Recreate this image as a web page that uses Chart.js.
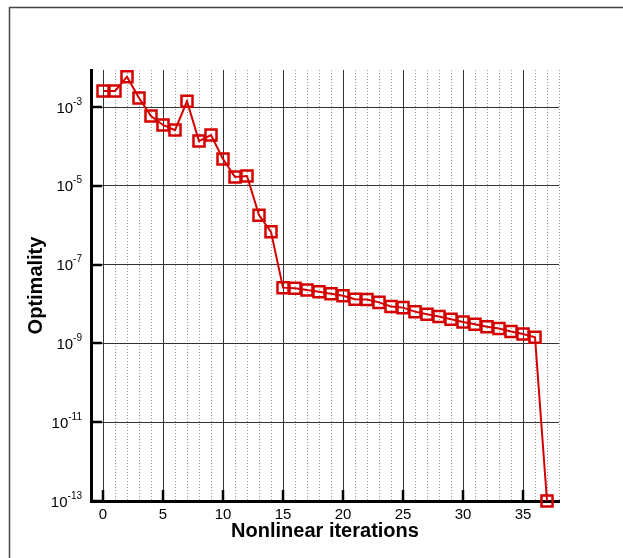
<!DOCTYPE html>
<html>
<head>
<meta charset="utf-8">
<script src="https://cdn.jsdelivr.net/npm/chart.js@4/dist/chart.umd.min.js"></script>
<style>
  html, body { margin: 0; padding: 0; background: #fff; }
  canvas { display: block; }
</style>
</head>
<body>
<canvas id="chart" width="623" height="558"></canvas>
<script>
// data
const iterations = [0, 1, 2, 3, 4, 5, 6, 7, 8, 9, 10, 11, 12, 13, 14, 15, 16, 17, 18,
  19, 20, 21, 22, 23, 24, 25, 26, 27, 28, 29, 30, 31, 32, 33, 34, 35, 36, 37];
const optimality = [2.55e-3, 2.55e-3, 5.9e-3, 1.7e-3, 5.9e-4, 3.5e-4, 2.6e-4, 1.4e-3,
  1.37e-4, 1.95e-4, 4.8e-5, 1.68e-5, 1.78e-5, 1.8e-6, 6.8e-7, 2.6e-8, 2.5e-8, 2.26e-8,
  2.05e-8, 1.82e-8, 1.62e-8, 1.32e-8, 1.3e-8, 1.1e-8, 8.7e-9, 8.1e-9, 6.4e-9, 5.5e-9,
  4.8e-9, 4.1e-9, 3.5e-9, 3.05e-9, 2.65e-9, 2.4e-9, 2.0e-9, 1.73e-9, 1.43e-9, 1e-13];
const xTickLabels = [0, 5, 10, 15, 20, 25, 30, 35];
const yTickExponents = [-3, -5, -7, -9, -11, -13];

const FONT = '"Liberation Sans", Arial, Helvetica, sans-serif';
const RED = '#d40000';

const isMajorX = v => v % 5 === 0 && v >= 0 && v <= 35;

const decorations = {
  id: 'decorations',
  beforeDraw(chart) {
    const ctx = chart.ctx;
    ctx.save();
    ctx.fillStyle = '#fff';
    ctx.fillRect(0, 0, chart.width, chart.height);
    // outer frame (top and left only)
    ctx.strokeStyle = '#444';
    ctx.lineWidth = 1.5;
    ctx.beginPath();
    ctx.moveTo(9.5, chart.height);
    ctx.lineTo(9.5, 7.5);
    ctx.lineTo(chart.width, 7.5);
    ctx.stroke();
    ctx.restore();
  },
  afterDraw(chart) {
    const ctx = chart.ctx;
    const xs = chart.scales.x, ys = chart.scales.y;
    const area = chart.chartArea;
    ctx.save();
    // inward major ticks
    ctx.strokeStyle = '#000';
    ctx.lineWidth = 2.5;
    ctx.beginPath();
    xTickLabels.forEach(v => {
      const px = Math.round(xs.getPixelForValue(v));
      ctx.moveTo(px, area.bottom);
      ctx.lineTo(px, area.bottom - 11);
    });
    yTickExponents.forEach(e => {
      const py = Math.round(ys.getPixelForValue(Math.pow(10, e)));
      ctx.moveTo(area.left, py);
      ctx.lineTo(area.left + 11, py);
    });
    ctx.stroke();

    ctx.fillStyle = '#000';
    // x tick labels
    ctx.font = '15px ' + FONT;
    ctx.textAlign = 'center';
    ctx.textBaseline = 'alphabetic';
    xTickLabels.forEach(v => {
      ctx.fillText(String(v), xs.getPixelForValue(v), 519);
    });
    // y tick labels 10^e
    yTickExponents.forEach(e => {
      const py = ys.getPixelForValue(Math.pow(10, e));
      const exp = String(e);
      ctx.font = '10px ' + FONT;
      const ew = ctx.measureText(exp).width;
      const right = 82;
      ctx.textAlign = 'left';
      ctx.fillText(exp, right - ew, py - 2.5);
      ctx.font = '15px ' + FONT;
      ctx.textAlign = 'right';
      ctx.fillText('10', right - ew, py + 5.5);
    });
    // axis titles
    ctx.font = 'bold 20px ' + FONT;
    ctx.textAlign = 'center';
    ctx.fillText('Nonlinear iterations', (area.left + area.right) / 2, 537);
    ctx.translate(41.5, (area.top + area.bottom) / 2);
    ctx.rotate(-Math.PI / 2);
    ctx.fillText('Optimality', 0, 0);
    ctx.restore();
  }
};

new Chart(document.getElementById('chart'), {
  type: 'scatter',
  data: {
    datasets: [{
      data: iterations.map((it, i) => ({ x: it, y: optimality[i] })),
      showLine: true,
      borderColor: RED,
      borderWidth: 2,
      pointStyle: 'rect',
      pointRadius: 7.8,
      pointBorderWidth: 2.5,
      pointBorderColor: RED,
      pointBackgroundColor: 'rgba(0,0,0,0)',
      clip: false
    }]
  },
  options: {
    responsive: false,
    animation: false,
    layout: { padding: { left: 91, right: 64, top: 70, bottom: 57 } },
    plugins: { legend: { display: false }, tooltip: { enabled: false } },
    scales: {
      x: {
        type: 'linear',
        min: -1,
        max: 38,
        ticks: { display: false, stepSize: 1 },
        grid: {
          drawTicks: false,
          color: c => (c.tick && isMajorX(c.tick.value)) ? '#333' : '#9a9a9a',
          lineWidth: 1
        },
        border: {
          color: '#000',
          width: 3,
          dash: c => (c.tick && !isMajorX(c.tick.value)) ? [1, 2] : []
        }
      },
      y: {
        type: 'logarithmic',
        min: 1e-13,
        max: Math.pow(10, -2.06),
        afterBuildTicks: scale => {
          scale.ticks = yTickExponents.map(e => ({ value: Math.pow(10, e) }));
        },
        ticks: { display: false },
        grid: { drawTicks: false, color: '#333', lineWidth: 1 },
        border: { color: '#000', width: 3, dash: [] }
      }
    }
  },
  plugins: [decorations]
});
</script>
</body>
</html>
